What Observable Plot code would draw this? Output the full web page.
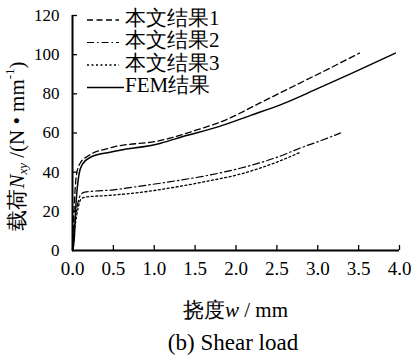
<!DOCTYPE html>
<html><head><meta charset="utf-8">
<script src="https://cdn.jsdelivr.net/npm/d3@7"></script>
<script src="https://cdn.jsdelivr.net/npm/@observablehq/plot@0.6"></script>
<style>
body{margin:0;background:#fff;}
</style></head>
<body><div id="chart"></div>
<script>
const seriesNames = ["本文结果1", "本文结果2", "本文结果3", "FEM结果"];
const xTicks = [0, 0.5, 1, 1.5, 2, 2.5, 3, 3.5, 4];
const yTicks = [0, 20, 40, 60, 80, 100, 120];

const s1X = [0, 0.02, 0.05, 0.1, 0.2, 0.46, 1.08, 1.48, 1.89, 2.30, 2.71, 3.12, 3.51];
const s1Y = [0, 22, 39, 45, 48.5, 52.4, 56.2, 61, 67, 75.5, 84, 92.5, 100.8];
const s2X = [0, 0.03, 0.07, 0.1, 0.15, 0.5, 0.85, 1.25, 1.65, 2.05, 2.46, 2.83, 3.05, 3.28];
const s2Y = [0, 15, 25, 28.5, 29.8, 31, 33, 35.5, 38.3, 42, 47, 53, 56.3, 60];
const s3X = [0, 0.03, 0.07, 0.1, 0.15, 0.5, 0.85, 1.25, 1.65, 2.05, 2.46, 2.78];
const s3Y = [0, 12, 22, 26, 27.2, 28.3, 29.8, 32.3, 35.4, 39, 44.5, 50];
const femX = [0, 0.02, 0.04, 0.08, 0.12, 0.22, 0.46, 1.08, 1.36, 1.77, 2.18, 2.58, 2.99, 3.40, 3.95];
const femY = [0, 5, 22, 39, 44, 47.6, 50.2, 54.8, 58.3, 63, 69, 75, 82.5, 90.2, 100.8];

const dashes = ["6,3.5", "7,3,1.5,3", "2,2.5", null];
const widths = [1.3, 1.2, 1.3, 1.5];
const toRows = (xs, ys) => xs.map((x, i) => ({x, y: ys[i]}));
const series = [toRows(s1X, s1Y), toRows(s2X, s2Y), toRows(s3X, s3Y), toRows(femX, femY)];

const SERIF = "Liberation Serif";
const W = 411, H = 364, mL = 72, mR = 12, mT = 15, mB = 114;
const fw = W - mL - mR, fh = H - mT - mB;

const marks = [];
series.forEach((d, i) => {
  marks.push(Plot.line(d, {x: "x", y: "y", stroke: "#000", strokeWidth: widths[i],
    strokeDasharray: dashes[i], curve: "monotone-x"}));
});
marks.push(
  Plot.ruleX(xTicks.slice(1), {stroke: "#000", strokeWidth: 1.3, insetTop: fh - 5}),
  Plot.ruleY(yTicks.slice(1), {stroke: "#000", strokeWidth: 1.3, insetRight: fw - 5}),
  Plot.ruleX([0], {stroke: "#000", strokeWidth: 2}),
  Plot.ruleY([0], {stroke: "#000", strokeWidth: 2}),
  Plot.axisX({ticks: xTicks, tickSize: 0, tickPadding: 11, tickFormat: d3.format(".1f"), fontSize: 19, label: null}),
  Plot.axisY({ticks: yTicks, tickSize: 0, tickPadding: 13, fontSize: 17, label: null}),
  Plot.text(["(b) Shear load"], {frameAnchor: "bottom", dy: 99, dx: -3, fontSize: 23, text: d => d})
);

const chart = Plot.plot({
  width: W, height: H, marginLeft: mL, marginRight: mR, marginTop: mT, marginBottom: mB,
  x: {domain: [0, 4]}, y: {domain: [0, 120]},
  style: {color: "#000", background: "#fff"},
  marks
});
chart.setAttribute("font-family", SERIF);
chart.style.fontFamily = SERIF;
document.getElementById("chart").append(chart);

const svg = d3.select(chart);
svg.selectAll("g, text").attr("font-family", SERIF).style("font-family", SERIF);

const xl = svg.append("text").attr("x", mL + fw / 2).attr("y", 312).attr("text-anchor", "middle")
  .attr("dominant-baseline", "middle").attr("font-size", 21).attr("fill", "#000");
xl.append("tspan").text("挠度");
xl.append("tspan").attr("font-style", "italic").text("w");
xl.append("tspan").text(" / mm");

const yl = svg.append("text").attr("transform", "translate(19,146) rotate(-90)")
  .attr("text-anchor", "middle").attr("dominant-baseline", "middle").attr("font-size", 21).attr("fill", "#000");
yl.append("tspan").text("载荷");
yl.append("tspan").attr("font-style", "italic").text("N");
yl.append("tspan").attr("font-style", "italic").attr("font-size", 13).attr("dy", 5).text("xy");
yl.append("tspan").attr("dy", -5).text(" /(N • mm");
yl.append("tspan").attr("font-size", 13).attr("dy", -8).text("-1");
yl.append("tspan").attr("dy", 8).text(")");

const lg = svg.append("g");
seriesNames.forEach((name, i) => {
  const y = 20 + i * 22.5;
  lg.append("line").attr("x1", 87).attr("x2", i === 3 ? 124 : 119).attr("y1", y).attr("y2", y)
    .attr("stroke", "#000").attr("stroke-width", widths[i]).attr("stroke-dasharray", dashes[i]);
  lg.append("text").attr("x", 125).attr("y", y).attr("dominant-baseline", "middle")
    .attr("text-anchor", "start").attr("font-size", 21).attr("fill", "#000").text(name);
});
</script></body></html>
